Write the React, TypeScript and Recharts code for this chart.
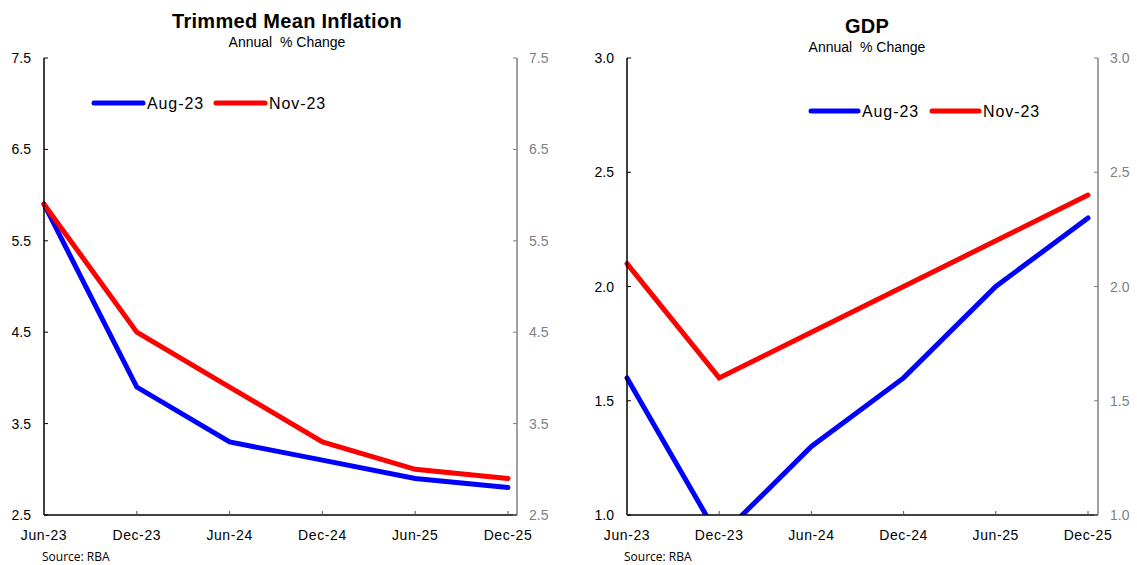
import React from 'react';
import { LineChart, Line, XAxis, YAxis } from 'recharts';

const periods = ['Jun-23', 'Dec-23', 'Jun-24', 'Dec-24', 'Jun-25', 'Dec-25'];
const inflationAug = [5.9, 3.9, 3.3, 3.1, 2.9, 2.8];
const inflationNov = [5.9, 4.5, 3.9, 3.3, 3.0, 2.9];
const gdpAug = [1.6, 0.9, 1.3, 1.6, 2.0, 2.3];
const gdpNov = [2.1, 1.6, 1.8, 2.0, 2.2, 2.4];
const inflationTicks = [2.5, 3.5, 4.5, 5.5, 6.5, 7.5];
const gdpTicks = [1.0, 1.5, 2.0, 2.5, 3.0];
const seriesNames = ['Aug-23', 'Nov-23'];
const seriesColors = ['#0000FF', '#FF0000'];

const inflationData = periods.map((p, i) => ({ period: p, aug: inflationAug[i], nov: inflationNov[i] }));
const gdpData = periods.map((p, i) => ({ period: p, aug: gdpAug[i], nov: gdpNov[i] }));

const FONT = '"Liberation Sans", Arial, sans-serif';

const YTick = (props: any) => {
  const { x, y, payload, side, color, fmt } = props;
  const dir = side === 'left' ? 1 : -1;
  return (
    <g>
      <line x1={x} x2={x + dir * 4} y1={y} y2={y} stroke={color} strokeWidth={1} />
      <text
        x={side === 'left' ? x - 13 : x + 12}
        y={y}
        textAnchor={side === 'left' ? 'end' : 'start'}
        dominantBaseline="central"
        fontSize={14}
        fill={color}
        fontFamily={FONT}
      >
        {fmt(payload.value)}
      </text>
    </g>
  );
};

const XTick = (props: any) => {
  const { x, y, payload } = props;
  return (
    <g>
      <line x1={x} x2={x} y1={y} y2={y - 4} stroke="#555" strokeWidth={1} />
      <text x={x} y={y + 20} textAnchor="middle" dominantBaseline="central" fontSize={14} fill="#000" fontFamily={FONT} letterSpacing={0.6}>
        {payload.value}
      </text>
    </g>
  );
};

const LegendBox = (props: any) => {
  const { left, top, lineW, gap } = props;
  let cx = 0;
  return (
    <svg width={320} height={24} style={{ position: 'absolute', left, top, overflow: 'visible' }}>
      {seriesNames.map((name, i) => {
        const x0 = cx;
        cx += lineW + 5 + 58 + gap;
        return (
          <g key={i}>
            <line x1={x0 + 2} x2={x0 + lineW} y1={12} y2={12} stroke={seriesColors[i]} strokeWidth={5} strokeLinecap="round" />
            <text x={x0 + lineW + 4} y={12} dominantBaseline="central" fontSize={16} fill="#000" fontFamily={FONT} letterSpacing={0.9}>
              {name}
            </text>
          </g>
        );
      })}
    </svg>
  );
};

const Panel = (props: any) => {
  const { data, ticks, fmt, leftW, rightW, padRight, width } = props;
  return (
    <LineChart width={width} height={565} data={data} margin={{ top: 58, right: 0, bottom: 0, left: 0 }}>
      <XAxis
        dataKey="period"
        height={50}
        interval={0}
        padding={{ left: 0, right: padRight }}
        axisLine={{ stroke: '#000', strokeWidth: 1.5 }}
        tickLine={false}
        tickSize={0}
        tickMargin={0}
        tick={(p: any) => <XTick {...p} />}
      />
      <YAxis
        yAxisId="left"
        orientation="left"
        width={leftW}
        domain={[ticks[0], ticks[ticks.length - 1]]}
        ticks={ticks}
        allowDataOverflow
        axisLine={{ stroke: '#000', strokeWidth: 1.5 }}
        tickLine={false}
        tickSize={0}
        tickMargin={0}
        tick={(p: any) => <YTick {...p} side="left" color="#000" fmt={fmt} />}
      />
      <YAxis
        yAxisId="right"
        orientation="right"
        width={rightW}
        domain={[ticks[0], ticks[ticks.length - 1]]}
        ticks={ticks}
        allowDataOverflow
        axisLine={{ stroke: '#808080', strokeWidth: 1.5 }}
        tickLine={false}
        tickSize={0}
        tickMargin={0}
        tick={(p: any) => <YTick {...p} side="right" color="#7f7f7f" fmt={fmt} />}
      />
      <Line
        yAxisId="left"
        dataKey="aug"
        name={seriesNames[0]}
        stroke={seriesColors[0]}
        strokeWidth={5}
        dot={false}
        activeDot={false}
        strokeLinecap="round"
        isAnimationActive={false}
      />
      <Line
        yAxisId="left"
        dataKey="nov"
        name={seriesNames[1]}
        stroke={seriesColors[1]}
        strokeWidth={5}
        dot={false}
        activeDot={false}
        strokeLinecap="round"
        isAnimationActive={false}
      />
    </LineChart>
  );
};

const titleStyle: React.CSSProperties = {
  position: 'absolute',
  fontFamily: FONT,
  fontWeight: 'bold',
  fontSize: 20,
  letterSpacing: 0.3,
  color: '#000',
  textAlign: 'center',
  width: 400,
  lineHeight: '22px',
};
const subStyle: React.CSSProperties = {
  position: 'absolute',
  fontFamily: FONT,
  fontSize: 14,
  color: '#000',
  textAlign: 'center',
  width: 300,
  lineHeight: '16px',
  whiteSpace: 'pre',
};
const sourceStyle: React.CSSProperties = {
  position: 'absolute',
  fontFamily: '"Open Sans", sans-serif',
  fontSize: 12,
  color: '#000',
  lineHeight: '14px',
};

export default function App() {
  return (
    <div style={{ position: 'absolute', left: 0, top: 0, width: 1137, height: 565, background: '#fff', overflow: 'hidden' }}>
      <div style={{ position: 'absolute', left: 0, top: 0 }}>
        <Panel
          data={inflationData}
          ticks={inflationTicks}
          fmt={(v: number) => v.toFixed(1)}
          width={568}
          leftW={44}
          rightW={51}
          padRight={9}
        />
      </div>
      <div style={{ position: 'absolute', left: 569, top: 0 }}>
        <Panel
          data={gdpData}
          ticks={gdpTicks}
          fmt={(v: number) => v.toFixed(1)}
          width={568}
          leftW={58}
          rightW={39}
          padRight={10}
        />
      </div>
      <LegendBox left={92} top={91} lineW={51} gap={8} />
      <LegendBox left={809} top={99} lineW={49} gap={9} />
      <div style={{ ...titleStyle, left: 87, top: 10 }}>Trimmed Mean Inflation</div>
      <div style={{ ...subStyle, left: 137, top: 34 }}>{'Annual  % Change'}</div>
      <div style={{ ...titleStyle, left: 667, top: 15 }}>GDP</div>
      <div style={{ ...subStyle, left: 717, top: 39 }}>{'Annual  % Change'}</div>
      <div style={{ ...sourceStyle, left: 42, top: 550 }}>Source: RBA</div>
      <div style={{ ...sourceStyle, left: 624, top: 550 }}>Source: RBA</div>
    </div>
  );
}
